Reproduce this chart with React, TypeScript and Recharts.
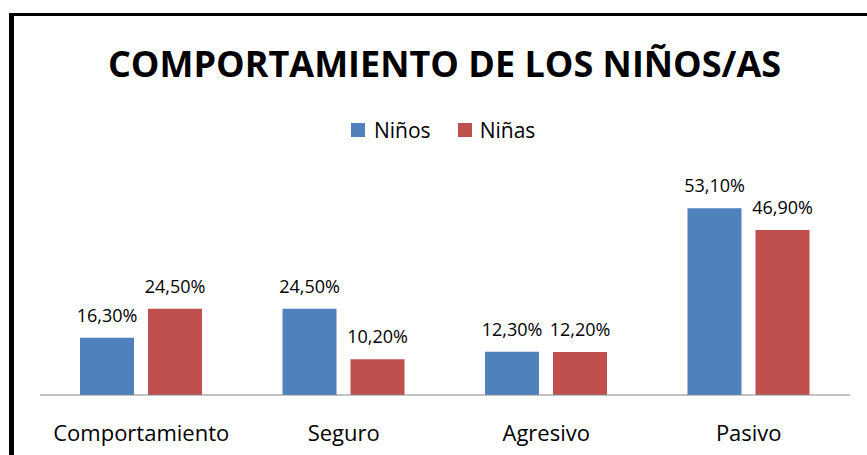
import React from 'react';
import { BarChart, Bar, XAxis, YAxis, Legend, LabelList } from 'recharts';

const categories = ['Comportamiento', 'Seguro', 'Agresivo', 'Pasivo'];
const ninos = [16.3, 24.5, 12.3, 53.1];
const ninas = [24.5, 10.2, 12.2, 46.9];

const data = categories.map((name, i) => ({ name, ninos: ninos[i], ninas: ninas[i] }));

const FONT = '"Open Sans", sans-serif';
const BLUE = '#4F81BD';
const RED = '#C0504D';

const fmt = (v: any) => Number(v).toFixed(2).replace('.', ',') + '%';

const LegendBox = () => (
  <div style={{ display: 'flex', alignItems: 'center', fontFamily: FONT, fontSize: 21, color: '#000' }}>
    <span style={{ width: 14, height: 14, background: BLUE, display: 'inline-block', marginRight: 9 }} />
    <span style={{ marginRight: 27 }}>Niños</span>
    <span style={{ width: 14, height: 14, background: RED, display: 'inline-block', marginRight: 8 }} />
    <span>Niñas</span>
  </div>
);

const App: React.FC = () => {
  return (
    <div style={{ position: 'relative', width: 867, height: 455, overflow: 'hidden', background: '#fff' }}>
      <style>{`body { margin: 0; }`}</style>
      <div
        style={{
          position: 'absolute', left: 9, top: 13, width: 900, height: 500,
          borderLeft: '5px solid #000', borderTop: '3px solid #000', boxSizing: 'border-box',
        }}
      />
      <div
        style={{
          position: 'absolute', left: 0, top: 39, width: 889, textAlign: 'center',
          fontFamily: FONT, fontWeight: 700, fontSize: 36, color: '#000', whiteSpace: 'nowrap',
        }}
      >
        COMPORTAMIENTO DE LOS NIÑOS/AS
      </div>
      <div style={{ position: 'absolute', left: 0, top: 0 }}>
        <BarChart
          width={867}
          height={455}
          data={data}
          margin={{ top: 184, right: 17, bottom: 0, left: 40 }}
          barSize={54}
          barGap={14}
        >
          <XAxis
            dataKey="name"
            axisLine={{ stroke: '#868686', strokeWidth: 1 }}
            tickLine={false}
            tickMargin={24}
            tick={{ fill: '#000', fontFamily: FONT, fontSize: 22 }}
            height={60}
          />
          <YAxis hide domain={[0, 60]} />
          <Legend
            verticalAlign="middle"
            align="center"
            content={<LegendBox />}
            wrapperStyle={{ top: 116, left: 351, width: 'auto' }}
          />
          <Bar dataKey="ninos" name="Niños" fill={BLUE} isAnimationActive={false}>
            <LabelList dataKey="ninos" position="top" offset={16} formatter={fmt}
              style={{ fill: '#000', fontFamily: FONT, fontSize: 18 }} />
          </Bar>
          <Bar dataKey="ninas" name="Niñas" fill={RED} isAnimationActive={false}>
            <LabelList dataKey="ninas" position="top" offset={16} formatter={fmt}
              style={{ fill: '#000', fontFamily: FONT, fontSize: 18 }} />
          </Bar>
        </BarChart>
      </div>
    </div>
  );
};

export default App;
